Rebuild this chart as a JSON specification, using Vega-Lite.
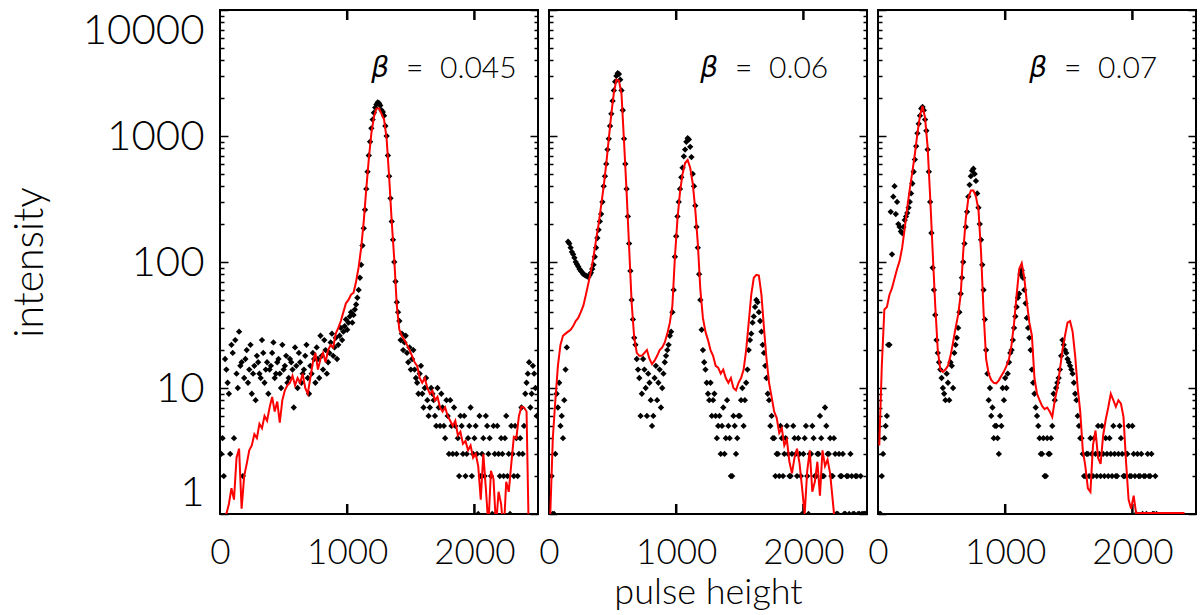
{
  "$schema": "https://vega.github.io/schema/vega-lite/v6.json",
  "background": "white",
  "padding": {"left": 8, "top": -7, "right": 6, "bottom": 0},
  "spacing": 11,
  "bounds": "flush",
  "config": {
    "font": "Lato",
    "view": {"stroke": "black", "strokeWidth": 2},
    "axis": {
      "labelFont": "Lato",
      "labelFontWeight": 300,
      "labelColor": "black",
      "titleFont": "Lato",
      "titleFontWeight": 300,
      "titleColor": "black",
      "ticks": false,
      "domain": false,
      "grid": true,
      "gridColor": "black",
      "gridOpacity": 1,
      "gridWidth": 1.5,
      "labelOverlap": false,
      "labelBound": false
    },
    "axisX": {"grid": false}
  },
  "datasets": {
    "ax": [
      {"x": 1000, "y": 1}, {"x": 2000, "y": 1}, {"x": 1000, "y": 10000}, {"x": 2000, "y": 10000}
    ],
    "p1": [
      {"x": 10, "n": 3, "f": 0.5}, {"x": 30, "n": 2, "f": 0.6}, {"x": 50, "n": 14, "f": 1.0}, {"x": 70, "n": 9, "f": 1.2},
      {"x": 90, "n": 22, "f": 1.6}, {"x": 110, "n": 4, "f": 1.3}, {"x": 130, "n": 13, "f": 2.8}, {"x": 150, "n": 28, "f": 3.3},
      {"x": 170, "n": 16, "f": 1.1}, {"x": 190, "n": 12, "f": 2.0}, {"x": 210, "n": 20, "f": 2.5}, {"x": 230, "n": 14, "f": 3.2},
      {"x": 250, "n": 9, "f": 3.5}, {"x": 270, "n": 15, "f": 4.3}, {"x": 290, "n": 18, "f": 4.0}, {"x": 310, "n": 13, "f": 5.2},
      {"x": 330, "n": 24, "f": 4.8}, {"x": 350, "n": 11, "f": 6.0}, {"x": 370, "n": 16, "f": 5.5}, {"x": 390, "n": 14, "f": 7.0},
      {"x": 410, "n": 19, "f": 8.5}, {"x": 430, "n": 12, "f": 6.5}, {"x": 450, "n": 16, "f": 7.8}, {"x": 470, "n": 13, "f": 5.3},
      {"x": 490, "n": 22, "f": 8.0}, {"x": 510, "n": 15, "f": 9.6}, {"x": 530, "n": 11, "f": 10.5}, {"x": 550, "n": 17, "f": 11.0},
      {"x": 570, "n": 14, "f": 12.5}, {"x": 590, "n": 21, "f": 10.5}, {"x": 610, "n": 10, "f": 12.0}, {"x": 630, "n": 16, "f": 11.0},
      {"x": 650, "n": 13, "f": 13.0}, {"x": 670, "n": 18, "f": 10.0}, {"x": 690, "n": 12, "f": 9.0}, {"x": 710, "n": 15, "f": 12.0},
      {"x": 730, "n": 19, "f": 16.0}, {"x": 750, "n": 11, "f": 19.0}, {"x": 770, "n": 17, "f": 14.0}, {"x": 790, "n": 26, "f": 17.0},
      {"x": 810, "n": 14, "f": 19.0}, {"x": 830, "n": 20, "f": 16.0}, {"x": 850, "n": 16, "f": 20.0}, {"x": 870, "n": 23, "f": 22.0},
      {"x": 890, "n": 18, "f": 21.0}, {"x": 910, "n": 25, "f": 27.0}, {"x": 930, "n": 22, "f": 30.0}, {"x": 950, "n": 30, "f": 34.0},
      {"x": 970, "n": 28, "f": 40.0}, {"x": 990, "n": 35, "f": 47.0}, {"x": 1010, "n": 33, "f": 50.0}, {"x": 1030, "n": 40, "f": 55.0},
      {"x": 1050, "n": 38, "f": 57.0}, {"x": 1070, "n": 46, "f": 70.0}, {"x": 1090, "n": 60, "f": 91.0}, {"x": 1110, "n": 95, "f": 130},
      {"x": 1130, "n": 185, "f": 210}, {"x": 1150, "n": 380, "f": 380}, {"x": 1170, "n": 700, "f": 660}, {"x": 1190, "n": 1150, "f": 1050},
      {"x": 1210, "n": 1530, "f": 1420}, {"x": 1230, "n": 1780, "f": 1650}, {"x": 1250, "n": 1820, "f": 1660}, {"x": 1270, "n": 1600, "f": 1500},
      {"x": 1290, "n": 1450, "f": 1350}, {"x": 1310, "n": 1000, "f": 950}, {"x": 1330, "n": 480, "f": 470}, {"x": 1350, "n": 210, "f": 210},
      {"x": 1370, "n": 100, "f": 105}, {"x": 1390, "n": 48, "f": 45}, {"x": 1410, "n": 34, "f": 29}, {"x": 1430, "n": 27, "f": 26},
      {"x": 1450, "n": 23, "f": 24}, {"x": 1470, "n": 19, "f": 22}, {"x": 1490, "n": 21, "f": 20}, {"x": 1510, "n": 17, "f": 18},
      {"x": 1530, "n": 14, "f": 16}, {"x": 1550, "n": 11, "f": 15}, {"x": 1570, "n": 13, "f": 12}, {"x": 1590, "n": 9, "f": 11},
      {"x": 1610, "n": 10, "f": 12}, {"x": 1630, "n": 8, "f": 10}, {"x": 1650, "n": 7, "f": 9}, {"x": 1670, "n": 9, "f": 9.5},
      {"x": 1690, "n": 6, "f": 8}, {"x": 1710, "n": 10, "f": 8.5}, {"x": 1730, "n": 5, "f": 7}, {"x": 1750, "n": 7, "f": 6.5},
      {"x": 1770, "n": 4, "f": 7}, {"x": 1790, "n": 6, "f": 6}, {"x": 1810, "n": 8, "f": 5.5}, {"x": 1830, "n": 3, "f": 5},
      {"x": 1850, "n": 5, "f": 5.5}, {"x": 1870, "n": 4, "f": 4.2}, {"x": 1890, "n": 6, "f": 4.5}, {"x": 1910, "n": 3, "f": 3.6},
      {"x": 1930, "n": 2, "f": 3.8}, {"x": 1950, "n": 4, "f": 3.2}, {"x": 1970, "n": 7, "f": 3.5}, {"x": 1990, "n": 3, "f": 2.8},
      {"x": 2010, "n": 5, "f": 3.0}, {"x": 2030, "n": 1, "f": 2.4}, {"x": 2050, "n": 2, "f": 1.3}, {"x": 2070, "n": 4, "f": 3.0},
      {"x": 2090, "n": 6, "f": 1.6}, {"x": 2110, "n": 3, "f": 0.8}, {"x": 2130, "n": 2, "f": 2.2}, {"x": 2150, "n": 5, "f": 1.9},
      {"x": 2170, "n": 1, "f": 0.8}, {"x": 2190, "n": 3, "f": 1.5}, {"x": 2210, "n": 4, "f": 1.2}, {"x": 2230, "n": 2, "f": 0.7},
      {"x": 2250, "n": 6, "f": 1.8}, {"x": 2270, "n": 3, "f": 1.5}, {"x": 2290, "n": 5, "f": 2.5}, {"x": 2310, "n": 2, "f": 4.1},
      {"x": 2330, "n": 4, "f": 4.0}, {"x": 2350, "n": 3, "f": 6.0}, {"x": 2370, "n": 7, "f": 7.1}, {"x": 2390, "n": 5, "f": 7.0},
      {"x": 2410, "n": 11, "f": 6.5}, {"x": 2430, "n": 16, "f": 0.5}, {"x": 2450, "n": 9, "f": null}, {"x": 2470, "n": 13, "f": null},
      {"x": 2490, "n": 6, "f": null},
      {"x": 20, "n": 4, "f": null}, {"x": 40, "n": 17, "f": null}, {"x": 60, "n": 11, "f": null}, {"x": 80, "n": 3, "f": null},
      {"x": 100, "n": 19, "f": null}, {"x": 120, "n": 24, "f": null}, {"x": 140, "n": 10, "f": null}, {"x": 160, "n": 15, "f": null},
      {"x": 180, "n": 2, "f": null}, {"x": 200, "n": 17, "f": null}, {"x": 220, "n": 11, "f": null}, {"x": 240, "n": 22, "f": null},
      {"x": 260, "n": 13, "f": null}, {"x": 280, "n": 8, "f": null}, {"x": 300, "n": 16, "f": null}, {"x": 320, "n": 12, "f": null},
      {"x": 340, "n": 19, "f": null}, {"x": 360, "n": 14, "f": null}, {"x": 380, "n": 9, "f": null}, {"x": 400, "n": 15, "f": null},
      {"x": 420, "n": 23, "f": null}, {"x": 440, "n": 13, "f": null}, {"x": 460, "n": 17, "f": null}, {"x": 480, "n": 10, "f": null},
      {"x": 500, "n": 14, "f": null}, {"x": 520, "n": 18, "f": null}, {"x": 540, "n": 12, "f": null}, {"x": 560, "n": 16, "f": null},
      {"x": 580, "n": 7, "f": null}, {"x": 600, "n": 15, "f": null}, {"x": 620, "n": 19, "f": null}, {"x": 640, "n": 11, "f": null},
      {"x": 660, "n": 14, "f": null}, {"x": 680, "n": 22, "f": null}, {"x": 700, "n": 9, "f": null}, {"x": 720, "n": 13, "f": null},
      {"x": 740, "n": 17, "f": null}, {"x": 760, "n": 21, "f": null}, {"x": 780, "n": 12, "f": null}, {"x": 800, "n": 18, "f": null},
      {"x": 820, "n": 24, "f": null}, {"x": 840, "n": 13, "f": null}, {"x": 860, "n": 19, "f": null}, {"x": 880, "n": 27, "f": null},
      {"x": 900, "n": 21, "f": null}, {"x": 920, "n": 17, "f": null}, {"x": 940, "n": 26, "f": null}, {"x": 960, "n": 24, "f": null},
      {"x": 980, "n": 31, "f": null}, {"x": 1000, "n": 29, "f": null}, {"x": 1020, "n": 37, "f": null}, {"x": 1040, "n": 33, "f": null},
      {"x": 1060, "n": 42, "f": null}, {"x": 1080, "n": 52, "f": null}, {"x": 1100, "n": 75, "f": null}, {"x": 1120, "n": 135, "f": null},
      {"x": 1140, "n": 260, "f": null}, {"x": 1160, "n": 520, "f": null}, {"x": 1180, "n": 900, "f": null}, {"x": 1200, "n": 1350, "f": null},
      {"x": 1220, "n": 1680, "f": null}, {"x": 1240, "n": 1850, "f": null}, {"x": 1260, "n": 1750, "f": null}, {"x": 1280, "n": 1550, "f": null},
      {"x": 1300, "n": 1200, "f": null}, {"x": 1320, "n": 700, "f": null}, {"x": 1340, "n": 320, "f": null}, {"x": 1360, "n": 150, "f": null},
      {"x": 1380, "n": 70, "f": null}, {"x": 1400, "n": 40, "f": null}, {"x": 1420, "n": 24, "f": null}, {"x": 1440, "n": 20, "f": null},
      {"x": 1460, "n": 26, "f": null}, {"x": 1480, "n": 16, "f": null}, {"x": 1500, "n": 14, "f": null}, {"x": 1520, "n": 20, "f": null},
      {"x": 1540, "n": 12, "f": null}, {"x": 1560, "n": 9, "f": null}, {"x": 1580, "n": 15, "f": null}, {"x": 1600, "n": 7, "f": null},
      {"x": 1620, "n": 12, "f": null}, {"x": 1640, "n": 6, "f": null}, {"x": 1660, "n": 10, "f": null}, {"x": 1680, "n": 8, "f": null},
      {"x": 1700, "n": 5, "f": null}, {"x": 1720, "n": 7, "f": null}, {"x": 1740, "n": 9, "f": null}, {"x": 1760, "n": 5, "f": null},
      {"x": 1780, "n": 8, "f": null}, {"x": 1800, "n": 3, "f": null}, {"x": 1820, "n": 5, "f": null}, {"x": 1840, "n": 7, "f": null},
      {"x": 1860, "n": 3, "f": null}, {"x": 1880, "n": 2, "f": null}, {"x": 1900, "n": 5, "f": null}, {"x": 1920, "n": 6, "f": null},
      {"x": 1940, "n": 3, "f": null}, {"x": 1960, "n": 5, "f": null}, {"x": 1980, "n": 2, "f": null}, {"x": 2000, "n": 4, "f": null},
      {"x": 2020, "n": 3, "f": null}, {"x": 2040, "n": 6, "f": null}, {"x": 2060, "n": 3, "f": null}, {"x": 2080, "n": 2, "f": null},
      {"x": 2100, "n": 5, "f": null}, {"x": 2120, "n": 4, "f": null}, {"x": 2140, "n": 1, "f": null}, {"x": 2160, "n": 3, "f": null},
      {"x": 2180, "n": 5, "f": null}, {"x": 2200, "n": 2, "f": null}, {"x": 2220, "n": 3, "f": null}, {"x": 2240, "n": 4, "f": null},
      {"x": 2260, "n": 2, "f": null}, {"x": 2280, "n": 1, "f": null}, {"x": 2300, "n": 3, "f": null}, {"x": 2320, "n": 5, "f": null},
      {"x": 2340, "n": 2, "f": null}, {"x": 2360, "n": 4, "f": null}, {"x": 2380, "n": 3, "f": null}, {"x": 2400, "n": 9, "f": null},
      {"x": 2420, "n": 13, "f": null}, {"x": 2440, "n": 7, "f": null}, {"x": 2460, "n": 15, "f": null}, {"x": 2480, "n": 10, "f": null}
    ],
    "p2": [
      {"x": 10, "n": 1, "f": 1.0}, {"x": 30, "n": 1, "f": 4}, {"x": 50, "n": 3, "f": 8}, {"x": 70, "n": 7, "f": 15},
      {"x": 90, "n": 5, "f": 22}, {"x": 110, "n": 4, "f": 26}, {"x": 130, "n": 14, "f": 27}, {"x": 150, "n": 145, "f": 28},
      {"x": 170, "n": 130, "f": 29}, {"x": 190, "n": 115, "f": 31}, {"x": 210, "n": 100, "f": 34}, {"x": 230, "n": 92, "f": 36},
      {"x": 250, "n": 85, "f": 40}, {"x": 270, "n": 80, "f": 45}, {"x": 290, "n": 78, "f": 55}, {"x": 310, "n": 76, "f": 68},
      {"x": 330, "n": 82, "f": 85}, {"x": 350, "n": 95, "f": 110}, {"x": 370, "n": 130, "f": 150}, {"x": 390, "n": 180, "f": 200},
      {"x": 410, "n": 240, "f": 280}, {"x": 430, "n": 400, "f": 400}, {"x": 450, "n": 600, "f": 600}, {"x": 470, "n": 950, "f": 950},
      {"x": 490, "n": 1500, "f": 1500}, {"x": 510, "n": 2300, "f": 2200}, {"x": 530, "n": 3000, "f": 2800}, {"x": 550, "n": 3100, "f": 2750},
      {"x": 570, "n": 2300, "f": 2150}, {"x": 590, "n": 950, "f": 900}, {"x": 610, "n": 380, "f": 360}, {"x": 630, "n": 140, "f": 130},
      {"x": 650, "n": 50, "f": 47}, {"x": 670, "n": 25, "f": 25}, {"x": 690, "n": 17, "f": 19}, {"x": 710, "n": 12, "f": 18},
      {"x": 730, "n": 9, "f": 18}, {"x": 750, "n": 14, "f": 19}, {"x": 770, "n": 6, "f": 20}, {"x": 790, "n": 11, "f": 17},
      {"x": 810, "n": 5, "f": 15.5}, {"x": 830, "n": 12, "f": 16.5}, {"x": 850, "n": 8, "f": 18}, {"x": 870, "n": 14, "f": 20},
      {"x": 890, "n": 10, "f": 21}, {"x": 910, "n": 16, "f": 23}, {"x": 930, "n": 20, "f": 27}, {"x": 950, "n": 26, "f": 33},
      {"x": 970, "n": 40, "f": 45}, {"x": 990, "n": 110, "f": 110}, {"x": 1010, "n": 230, "f": 220}, {"x": 1030, "n": 380, "f": 360},
      {"x": 1050, "n": 560, "f": 500}, {"x": 1070, "n": 780, "f": 610}, {"x": 1090, "n": 960, "f": 645}, {"x": 1110, "n": 820, "f": 560},
      {"x": 1130, "n": 500, "f": 420}, {"x": 1150, "n": 280, "f": 260}, {"x": 1170, "n": 130, "f": 140}, {"x": 1190, "n": 50, "f": 60},
      {"x": 1210, "n": 20, "f": 36}, {"x": 1230, "n": 14, "f": 28}, {"x": 1250, "n": 9, "f": 24}, {"x": 1270, "n": 11, "f": 20},
      {"x": 1290, "n": 8, "f": 18}, {"x": 1310, "n": 6, "f": 15}, {"x": 1330, "n": 5, "f": 14.5}, {"x": 1350, "n": 3, "f": 13},
      {"x": 1370, "n": 7, "f": 14}, {"x": 1390, "n": 4, "f": 12}, {"x": 1410, "n": 5, "f": 11}, {"x": 1430, "n": 2, "f": 12},
      {"x": 1450, "n": 6, "f": 10}, {"x": 1470, "n": 3, "f": 9.6}, {"x": 1490, "n": 6, "f": 11}, {"x": 1510, "n": 8, "f": 12},
      {"x": 1530, "n": 5, "f": 14}, {"x": 1550, "n": 11, "f": 20}, {"x": 1570, "n": 20, "f": 33}, {"x": 1590, "n": 27, "f": 55},
      {"x": 1610, "n": 37, "f": 75}, {"x": 1630, "n": 50, "f": 79}, {"x": 1650, "n": 40, "f": 78}, {"x": 1670, "n": 28, "f": 55},
      {"x": 1690, "n": 19, "f": 30}, {"x": 1710, "n": 12, "f": 17}, {"x": 1730, "n": 8, "f": 11}, {"x": 1750, "n": 6, "f": 8.5},
      {"x": 1770, "n": 4, "f": 6.5}, {"x": 1790, "n": 3, "f": 5.8}, {"x": 1810, "n": 2, "f": 4.4}, {"x": 1830, "n": 4, "f": 4.8},
      {"x": 1850, "n": 3, "f": 3.5}, {"x": 1870, "n": 5, "f": 3.9}, {"x": 1890, "n": 2, "f": 2.6}, {"x": 1910, "n": 3, "f": 2.1},
      {"x": 1930, "n": 4, "f": 2.8}, {"x": 1950, "n": 2, "f": 3.3}, {"x": 1970, "n": 3, "f": 2.5}, {"x": 1990, "n": 1, "f": 1.6},
      {"x": 2010, "n": 4, "f": 1.0}, {"x": 2030, "n": 2, "f": 2.2}, {"x": 2050, "n": 3, "f": 3.2}, {"x": 2070, "n": 5, "f": 1.5},
      {"x": 2090, "n": 2, "f": 1.8}, {"x": 2110, "n": 3, "f": 2.6}, {"x": 2130, "n": 6, "f": 1.4}, {"x": 2150, "n": 2, "f": 3.2},
      {"x": 2170, "n": 7, "f": 2.4}, {"x": 2190, "n": 3, "f": 2.7}, {"x": 2210, "n": 4, "f": 2.1}, {"x": 2230, "n": 2, "f": 1.3},
      {"x": 2250, "n": 3, "f": 0.8}, {"x": 2270, "n": 1, "f": null}, {"x": 2290, "n": 2, "f": null}, {"x": 2310, "n": 3, "f": null},
      {"x": 2330, "n": 1, "f": null}, {"x": 2350, "n": 2, "f": null}, {"x": 2370, "n": 3, "f": null}, {"x": 2390, "n": 1, "f": null},
      {"x": 2410, "n": 2, "f": null}, {"x": 2430, "n": 1, "f": null}, {"x": 2450, "n": 2, "f": null}, {"x": 2470, "n": 1, "f": null},
      {"x": 2490, "n": 1, "f": null},
      {"x": 20, "n": 2, "f": null}, {"x": 40, "n": 1, "f": null}, {"x": 60, "n": 9, "f": null}, {"x": 80, "n": 11, "f": null},
      {"x": 100, "n": 6, "f": null}, {"x": 120, "n": 8, "f": null}, {"x": 140, "n": 21, "f": null}, {"x": 160, "n": 140, "f": null},
      {"x": 180, "n": 120, "f": null}, {"x": 200, "n": 108, "f": null}, {"x": 220, "n": 96, "f": null}, {"x": 240, "n": 88, "f": null},
      {"x": 260, "n": 83, "f": null}, {"x": 280, "n": 79, "f": null}, {"x": 300, "n": 77, "f": null}, {"x": 320, "n": 79, "f": null},
      {"x": 340, "n": 88, "f": null}, {"x": 360, "n": 110, "f": null}, {"x": 380, "n": 155, "f": null}, {"x": 400, "n": 210, "f": null},
      {"x": 420, "n": 300, "f": null}, {"x": 440, "n": 480, "f": null}, {"x": 460, "n": 780, "f": null}, {"x": 480, "n": 1200, "f": null},
      {"x": 500, "n": 1900, "f": null}, {"x": 520, "n": 2700, "f": null}, {"x": 540, "n": 3150, "f": null}, {"x": 560, "n": 2800, "f": null},
      {"x": 580, "n": 1600, "f": null}, {"x": 600, "n": 600, "f": null}, {"x": 620, "n": 230, "f": null}, {"x": 640, "n": 85, "f": null},
      {"x": 660, "n": 35, "f": null}, {"x": 680, "n": 22, "f": null}, {"x": 700, "n": 14, "f": null}, {"x": 720, "n": 6, "f": null},
      {"x": 740, "n": 17, "f": null}, {"x": 760, "n": 10, "f": null}, {"x": 780, "n": 13, "f": null}, {"x": 800, "n": 8, "f": null},
      {"x": 820, "n": 6, "f": null}, {"x": 840, "n": 15, "f": null}, {"x": 860, "n": 11, "f": null}, {"x": 880, "n": 7, "f": null},
      {"x": 900, "n": 13, "f": null}, {"x": 920, "n": 18, "f": null}, {"x": 940, "n": 22, "f": null}, {"x": 960, "n": 28, "f": null},
      {"x": 980, "n": 60, "f": null}, {"x": 1000, "n": 160, "f": null}, {"x": 1020, "n": 300, "f": null}, {"x": 1040, "n": 470, "f": null},
      {"x": 1060, "n": 690, "f": null}, {"x": 1080, "n": 900, "f": null}, {"x": 1100, "n": 940, "f": null}, {"x": 1120, "n": 680, "f": null},
      {"x": 1140, "n": 400, "f": null}, {"x": 1160, "n": 190, "f": null}, {"x": 1180, "n": 80, "f": null}, {"x": 1200, "n": 29, "f": null},
      {"x": 1220, "n": 16, "f": null}, {"x": 1240, "n": 11, "f": null}, {"x": 1260, "n": 8, "f": null}, {"x": 1280, "n": 6, "f": null},
      {"x": 1300, "n": 9, "f": null}, {"x": 1320, "n": 4, "f": null}, {"x": 1340, "n": 6, "f": null}, {"x": 1360, "n": 5, "f": null},
      {"x": 1380, "n": 3, "f": null}, {"x": 1400, "n": 8, "f": null}, {"x": 1420, "n": 4, "f": null}, {"x": 1440, "n": 2, "f": null},
      {"x": 1460, "n": 5, "f": null}, {"x": 1480, "n": 4, "f": null}, {"x": 1500, "n": 6, "f": null}, {"x": 1520, "n": 10, "f": null},
      {"x": 1540, "n": 8, "f": null}, {"x": 1560, "n": 14, "f": null}, {"x": 1580, "n": 24, "f": null}, {"x": 1600, "n": 33, "f": null},
      {"x": 1620, "n": 44, "f": null}, {"x": 1640, "n": 48, "f": null}, {"x": 1660, "n": 34, "f": null}, {"x": 1680, "n": 22, "f": null},
      {"x": 1700, "n": 15, "f": null}, {"x": 1720, "n": 9, "f": null}, {"x": 1740, "n": 5, "f": null}, {"x": 1760, "n": 4, "f": null},
      {"x": 1780, "n": 2, "f": null}, {"x": 1800, "n": 3, "f": null}, {"x": 1820, "n": 5, "f": null}, {"x": 1840, "n": 2, "f": null},
      {"x": 1860, "n": 4, "f": null}, {"x": 1880, "n": 3, "f": null}, {"x": 1900, "n": 2, "f": null}, {"x": 1920, "n": 5, "f": null},
      {"x": 1940, "n": 3, "f": null}, {"x": 1960, "n": 4, "f": null}, {"x": 1980, "n": 2, "f": null}, {"x": 2000, "n": 3, "f": null},
      {"x": 2020, "n": 5, "f": null}, {"x": 2040, "n": 1, "f": null}, {"x": 2060, "n": 3, "f": null}, {"x": 2080, "n": 4, "f": null},
      {"x": 2100, "n": 2, "f": null}, {"x": 2120, "n": 3, "f": null}, {"x": 2140, "n": 4, "f": null}, {"x": 2160, "n": 2, "f": null},
      {"x": 2180, "n": 5, "f": null}, {"x": 2200, "n": 3, "f": null}, {"x": 2220, "n": 2, "f": null}, {"x": 2240, "n": 4, "f": null},
      {"x": 2260, "n": 1, "f": null}, {"x": 2280, "n": 3, "f": null}, {"x": 2300, "n": 2, "f": null}, {"x": 2320, "n": 1, "f": null},
      {"x": 2340, "n": 2, "f": null}, {"x": 2360, "n": 1, "f": null}, {"x": 2380, "n": 2, "f": null}, {"x": 2400, "n": 1, "f": null},
      {"x": 2420, "n": 2, "f": null}, {"x": 2440, "n": 1, "f": null}, {"x": 2460, "n": 1, "f": null}, {"x": 2480, "n": 1, "f": null}
    ],
    "p3": [
      {"x": 10, "n": 1, "f": 3.5}, {"x": 30, "n": 2, "f": 15}, {"x": 50, "n": 4, "f": 42}, {"x": 70, "n": 6, "f": 44},
      {"x": 90, "n": 22, "f": 55}, {"x": 110, "n": 115, "f": 62}, {"x": 130, "n": 400, "f": 74}, {"x": 150, "n": 300, "f": 88},
      {"x": 170, "n": 190, "f": 102}, {"x": 190, "n": 170, "f": 130}, {"x": 210, "n": 215, "f": 185}, {"x": 230, "n": 245, "f": 270},
      {"x": 250, "n": 300, "f": 380}, {"x": 270, "n": 420, "f": 520}, {"x": 290, "n": 650, "f": 720}, {"x": 310, "n": 1050, "f": 1050},
      {"x": 330, "n": 1450, "f": 1450}, {"x": 350, "n": 1700, "f": 1730}, {"x": 370, "n": 1350, "f": 1400}, {"x": 390, "n": 780, "f": 820},
      {"x": 410, "n": 300, "f": 330}, {"x": 430, "n": 90, "f": 120}, {"x": 450, "n": 38, "f": 45}, {"x": 470, "n": 19, "f": 20},
      {"x": 490, "n": 14, "f": 14}, {"x": 510, "n": 10, "f": 13.4}, {"x": 530, "n": 8, "f": 14}, {"x": 550, "n": 11, "f": 15},
      {"x": 570, "n": 16, "f": 18}, {"x": 590, "n": 10, "f": 23}, {"x": 610, "n": 22, "f": 30}, {"x": 630, "n": 30, "f": 38},
      {"x": 650, "n": 56, "f": 55}, {"x": 670, "n": 100, "f": 120}, {"x": 690, "n": 190, "f": 220}, {"x": 710, "n": 330, "f": 320},
      {"x": 730, "n": 480, "f": 370}, {"x": 750, "n": 550, "f": 370}, {"x": 770, "n": 440, "f": 330}, {"x": 790, "n": 270, "f": 260},
      {"x": 810, "n": 150, "f": 120}, {"x": 830, "n": 60, "f": 40}, {"x": 850, "n": 20, "f": 17}, {"x": 870, "n": 8, "f": 13},
      {"x": 890, "n": 6, "f": 11.6}, {"x": 910, "n": 4, "f": 11}, {"x": 930, "n": 5, "f": 10.9}, {"x": 950, "n": 3, "f": 11.5},
      {"x": 970, "n": 5, "f": 12.5}, {"x": 990, "n": 8, "f": 13.5}, {"x": 1010, "n": 10, "f": 15}, {"x": 1030, "n": 16, "f": 17},
      {"x": 1050, "n": 20, "f": 22}, {"x": 1070, "n": 30, "f": 33}, {"x": 1090, "n": 44, "f": 55}, {"x": 1110, "n": 56, "f": 88},
      {"x": 1130, "n": 86, "f": 98}, {"x": 1150, "n": 60, "f": 75}, {"x": 1170, "n": 36, "f": 48}, {"x": 1190, "n": 25, "f": 33},
      {"x": 1210, "n": 14, "f": 26}, {"x": 1230, "n": 9, "f": 12}, {"x": 1250, "n": 6, "f": 9}, {"x": 1270, "n": 4, "f": 8},
      {"x": 1290, "n": 3, "f": 7.2}, {"x": 1310, "n": 2, "f": 6.8}, {"x": 1330, "n": 4, "f": 7}, {"x": 1350, "n": 3, "f": 6.5},
      {"x": 1370, "n": 5, "f": 5.9}, {"x": 1390, "n": 8, "f": 8}, {"x": 1410, "n": 11, "f": 10}, {"x": 1430, "n": 14, "f": 14},
      {"x": 1450, "n": 24, "f": 20}, {"x": 1470, "n": 20, "f": 26}, {"x": 1490, "n": 17, "f": 33}, {"x": 1510, "n": 15, "f": 34},
      {"x": 1530, "n": 13, "f": 28}, {"x": 1550, "n": 9, "f": 18}, {"x": 1570, "n": 6, "f": 10}, {"x": 1590, "n": 4, "f": 6.5},
      {"x": 1610, "n": 3, "f": 3.2}, {"x": 1630, "n": 2, "f": 2.4}, {"x": 1650, "n": 3, "f": 1.6}, {"x": 1670, "n": 4, "f": 1.5},
      {"x": 1690, "n": 2, "f": 3.5}, {"x": 1710, "n": 3, "f": 4.6}, {"x": 1730, "n": 5, "f": 2.8}, {"x": 1750, "n": 2, "f": 2.5},
      {"x": 1770, "n": 3, "f": 4.2}, {"x": 1790, "n": 4, "f": 5.6}, {"x": 1810, "n": 2, "f": 7}, {"x": 1830, "n": 3, "f": 9},
      {"x": 1850, "n": 5, "f": 8}, {"x": 1870, "n": 2, "f": 7.1}, {"x": 1890, "n": 3, "f": 8}, {"x": 1910, "n": 4, "f": 7.5},
      {"x": 1930, "n": 2, "f": 5.9}, {"x": 1950, "n": 3, "f": 2.6}, {"x": 1970, "n": 5, "f": 1.3}, {"x": 1990, "n": 2, "f": 1.1},
      {"x": 2010, "n": 3, "f": 1.4}, {"x": 2030, "n": 1, "f": 1.0}, {"x": 2050, "n": 2, "f": 1.02}, {"x": 2070, "n": 3, "f": 1.02},
      {"x": 2090, "n": 2, "f": 1.02}, {"x": 2110, "n": 1, "f": 1.02}, {"x": 2130, "n": 2, "f": 1.02}, {"x": 2150, "n": 3, "f": 1.02},
      {"x": 2170, "n": 1, "f": 1.02}, {"x": 2190, "n": 1, "f": 1.02}, {"x": 2210, "n": null, "f": 1.02}, {"x": 2230, "n": null, "f": 1.02},
      {"x": 2250, "n": null, "f": 1.02}, {"x": 2270, "n": null, "f": 1.02}, {"x": 2290, "n": null, "f": 1.02}, {"x": 2310, "n": null, "f": 1.02},
      {"x": 2330, "n": null, "f": 1.02}, {"x": 2350, "n": null, "f": 1.02}, {"x": 2370, "n": null, "f": 1.02}, {"x": 2390, "n": null, "f": 1.02},
      {"x": 2410, "n": null, "f": 1.02},
      {"x": 20, "n": 1, "f": null}, {"x": 40, "n": 3, "f": null}, {"x": 60, "n": 5, "f": null}, {"x": 80, "n": 22, "f": null},
      {"x": 100, "n": 250, "f": null}, {"x": 120, "n": 330, "f": null}, {"x": 140, "n": 240, "f": null}, {"x": 160, "n": 200, "f": null},
      {"x": 180, "n": 175, "f": null}, {"x": 200, "n": 190, "f": null}, {"x": 220, "n": 230, "f": null}, {"x": 240, "n": 270, "f": null},
      {"x": 260, "n": 350, "f": null}, {"x": 280, "n": 520, "f": null}, {"x": 300, "n": 830, "f": null}, {"x": 320, "n": 1250, "f": null},
      {"x": 340, "n": 1650, "f": null}, {"x": 360, "n": 1600, "f": null}, {"x": 380, "n": 1100, "f": null}, {"x": 400, "n": 520, "f": null},
      {"x": 420, "n": 170, "f": null}, {"x": 440, "n": 60, "f": null}, {"x": 460, "n": 24, "f": null}, {"x": 480, "n": 16, "f": null},
      {"x": 500, "n": 12, "f": null}, {"x": 520, "n": 9, "f": null}, {"x": 540, "n": 13, "f": null}, {"x": 560, "n": 8, "f": null},
      {"x": 580, "n": 15, "f": null}, {"x": 600, "n": 19, "f": null}, {"x": 620, "n": 25, "f": null}, {"x": 640, "n": 40, "f": null},
      {"x": 660, "n": 75, "f": null}, {"x": 680, "n": 140, "f": null}, {"x": 700, "n": 250, "f": null}, {"x": 720, "n": 410, "f": null},
      {"x": 740, "n": 530, "f": null}, {"x": 760, "n": 500, "f": null}, {"x": 780, "n": 350, "f": null}, {"x": 800, "n": 200, "f": null},
      {"x": 820, "n": 95, "f": null}, {"x": 840, "n": 35, "f": null}, {"x": 860, "n": 13, "f": null}, {"x": 880, "n": 10, "f": null},
      {"x": 900, "n": 7, "f": null}, {"x": 920, "n": 5, "f": null}, {"x": 940, "n": 4, "f": null}, {"x": 960, "n": 6, "f": null},
      {"x": 980, "n": 10, "f": null}, {"x": 1000, "n": 12, "f": null}, {"x": 1020, "n": 13, "f": null}, {"x": 1040, "n": 19, "f": null},
      {"x": 1060, "n": 24, "f": null}, {"x": 1080, "n": 37, "f": null}, {"x": 1100, "n": 52, "f": null}, {"x": 1120, "n": 80, "f": null},
      {"x": 1140, "n": 75, "f": null}, {"x": 1160, "n": 47, "f": null}, {"x": 1180, "n": 30, "f": null}, {"x": 1200, "n": 20, "f": null},
      {"x": 1220, "n": 11, "f": null}, {"x": 1240, "n": 7, "f": null}, {"x": 1260, "n": 5, "f": null}, {"x": 1280, "n": 3, "f": null},
      {"x": 1300, "n": 4, "f": null}, {"x": 1320, "n": 2, "f": null}, {"x": 1340, "n": 3, "f": null}, {"x": 1360, "n": 4, "f": null},
      {"x": 1380, "n": 9, "f": null}, {"x": 1400, "n": 10, "f": null}, {"x": 1420, "n": 12, "f": null}, {"x": 1440, "n": 18, "f": null},
      {"x": 1460, "n": 22, "f": null}, {"x": 1480, "n": 19, "f": null}, {"x": 1500, "n": 16, "f": null}, {"x": 1520, "n": 14, "f": null},
      {"x": 1540, "n": 11, "f": null}, {"x": 1560, "n": 8, "f": null}, {"x": 1580, "n": 5, "f": null}, {"x": 1600, "n": 4, "f": null},
      {"x": 1620, "n": 2, "f": null}, {"x": 1640, "n": 3, "f": null}, {"x": 1660, "n": 2, "f": null}, {"x": 1680, "n": 3, "f": null},
      {"x": 1700, "n": 4, "f": null}, {"x": 1720, "n": 2, "f": null}, {"x": 1740, "n": 3, "f": null}, {"x": 1760, "n": 5, "f": null},
      {"x": 1780, "n": 2, "f": null}, {"x": 1800, "n": 3, "f": null}, {"x": 1820, "n": 4, "f": null}, {"x": 1840, "n": 2, "f": null},
      {"x": 1860, "n": 3, "f": null}, {"x": 1880, "n": 2, "f": null}, {"x": 1900, "n": 5, "f": null}, {"x": 1920, "n": 3, "f": null},
      {"x": 1940, "n": 2, "f": null}, {"x": 1960, "n": 3, "f": null}, {"x": 1980, "n": 2, "f": null}, {"x": 2000, "n": 5, "f": null},
      {"x": 2020, "n": 2, "f": null}, {"x": 2040, "n": 3, "f": null}, {"x": 2060, "n": 2, "f": null}, {"x": 2080, "n": 1, "f": null},
      {"x": 2100, "n": 2, "f": null}, {"x": 2120, "n": 3, "f": null}, {"x": 2140, "n": 2, "f": null}, {"x": 2160, "n": 1, "f": null},
      {"x": 2180, "n": 2, "f": null}
    ],
    "lab": [
      {"p": 1, "x": 1190, "y": 3400, "t": "β"}, {"p": 1, "x": 1462, "y": 3400, "t": "="}, {"p": 1, "x": 1730, "y": 3400, "t": "0.045"},
      {"p": 2, "x": 1190, "y": 3400, "t": "β"}, {"p": 2, "x": 1462, "y": 3400, "t": "="}, {"p": 2, "x": 1730, "y": 3400, "t": "0.06"},
      {"p": 3, "x": 1190, "y": 3400, "t": "β"}, {"p": 3, "x": 1462, "y": 3400, "t": "="}, {"p": 3, "x": 1730, "y": 3400, "t": "0.07"}
    ]
  },
  "hconcat": [
    {
      "width": 318,
      "height": 504,
      "encoding": {
        "x": {"field": "x", "type": "quantitative", "scale": {"domain": [0, 2500], "nice": false, "zero": false},
          "axis": {"values": [0, 1000, 2000], "format": "d", "title": null, "labelFontSize": 35, "labelPadding": 21, "labelFlush": false}}
      },
      "layer": [
        {
          "data": {"name": "p1"},
          "transform": [{"filter": "isValid(datum.n)"}],
          "mark": {"type": "point", "shape": "diamond", "filled": true, "color": "black", "opacity": 1, "size": 40, "clip": true},
          "encoding": {
            "y": {"field": "n", "type": "quantitative", "scale": {"type": "log", "domain": [1, 10000], "nice": false},
              "axis": {"values": [1, 2, 3, 4, 5, 6, 7, 8, 9, 10, 20, 30, 40, 50, 60, 70, 80, 90, 100, 200, 300, 400, 500, 600, 700, 800, 900, 1000, 2000, 3000, 4000, 5000, 6000, 7000, 8000, 9000, 10000],
                "title": "intensity", "titleFontSize": 41, "titlePadding": 31,
                "labelExpr": "(datum.value == 1 || datum.value == 10 || datum.value == 100 || datum.value == 1000 || datum.value == 10000) ? format(datum.value, 'd') : ''",
                "labelFontSize": 42, "labelPadding": 16, "labelFlush": true, "labelFlushOffset": 0,
                "gridDash": {"condition": {"test": "datum.value == 1 || datum.value == 10 || datum.value == 100 || datum.value == 1000 || datum.value == 10000", "value": [8, 302, 8, 5000]}, "value": [4, 310, 4, 5000]}}}
          }
        },
        {
          "data": {"name": "ax"},
          "mark": {"type": "tick", "orient": "vertical", "size": 20, "thickness": 2.5, "color": "black", "opacity": 1, "clip": true},
          "encoding": {"y": {"field": "y", "type": "quantitative"}}
        },
        {
          "data": {"name": "p1"},
          "transform": [{"filter": "isValid(datum.f)"}],
          "mark": {"type": "line", "color": "#ff0000", "strokeWidth": 2, "clip": true},
          "encoding": {"y": {"field": "f", "type": "quantitative"}}
        },
        {
          "data": {"name": "lab"},
          "transform": [{"filter": "datum.p == 1 && datum.t == 'β'"}],
          "mark": {"type": "text", "align": "left", "baseline": "middle", "fontSize": 28, "fontStyle": "italic", "font": "DejaVu Sans", "color": "black"},
          "encoding": {"y": {"field": "y", "type": "quantitative"}, "text": {"field": "t"}}
        },
        {
          "data": {"name": "lab"},
          "transform": [{"filter": "datum.p == 1 && datum.t != 'β'"}],
          "mark": {"type": "text", "align": "left", "baseline": "middle", "fontSize": 30, "fontWeight": 300, "font": "Lato", "color": "black"},
          "encoding": {"y": {"field": "y", "type": "quantitative"}, "text": {"field": "t"}}
        }
      ]
    },
    {
      "width": 318,
      "height": 504,
      "encoding": {
        "x": {"field": "x", "type": "quantitative", "scale": {"domain": [0, 2500], "nice": false, "zero": false},
          "axis": {"values": [0, 1000, 2000], "format": "d", "title": "pulse height", "titleFontSize": 36, "titlePadding": 5, "labelFontSize": 35, "labelPadding": 21, "labelFlush": false}}
      },
      "layer": [
        {
          "data": {"name": "p2"},
          "transform": [{"filter": "isValid(datum.n)"}],
          "mark": {"type": "point", "shape": "diamond", "filled": true, "color": "black", "opacity": 1, "size": 40, "clip": true},
          "encoding": {
            "y": {"field": "n", "type": "quantitative", "scale": {"type": "log", "domain": [1, 10000], "nice": false},
              "axis": {"values": [1, 2, 3, 4, 5, 6, 7, 8, 9, 10, 20, 30, 40, 50, 60, 70, 80, 90, 100, 200, 300, 400, 500, 600, 700, 800, 900, 1000, 2000, 3000, 4000, 5000, 6000, 7000, 8000, 9000, 10000],
                "title": null, "labels": false,
                "gridDash": {"condition": {"test": "datum.value == 1 || datum.value == 10 || datum.value == 100 || datum.value == 1000 || datum.value == 10000", "value": [8, 302, 8, 5000]}, "value": [4, 310, 4, 5000]}}}
          }
        },
        {
          "data": {"name": "ax"},
          "mark": {"type": "tick", "orient": "vertical", "size": 20, "thickness": 2.5, "color": "black", "opacity": 1, "clip": true},
          "encoding": {"y": {"field": "y", "type": "quantitative"}}
        },
        {
          "data": {"name": "p2"},
          "transform": [{"filter": "isValid(datum.f)"}],
          "mark": {"type": "line", "color": "#ff0000", "strokeWidth": 2, "clip": true},
          "encoding": {"y": {"field": "f", "type": "quantitative"}}
        },
        {
          "data": {"name": "lab"},
          "transform": [{"filter": "datum.p == 2 && datum.t == 'β'"}],
          "mark": {"type": "text", "align": "left", "baseline": "middle", "fontSize": 28, "fontStyle": "italic", "font": "DejaVu Sans", "color": "black"},
          "encoding": {"y": {"field": "y", "type": "quantitative"}, "text": {"field": "t"}}
        },
        {
          "data": {"name": "lab"},
          "transform": [{"filter": "datum.p == 2 && datum.t != 'β'"}],
          "mark": {"type": "text", "align": "left", "baseline": "middle", "fontSize": 30, "fontWeight": 300, "font": "Lato", "color": "black"},
          "encoding": {"y": {"field": "y", "type": "quantitative"}, "text": {"field": "t"}}
        }
      ]
    },
    {
      "width": 318,
      "height": 504,
      "encoding": {
        "x": {"field": "x", "type": "quantitative", "scale": {"domain": [0, 2500], "nice": false, "zero": false},
          "axis": {"values": [0, 1000, 2000], "format": "d", "title": null, "labelFontSize": 35, "labelPadding": 21, "labelFlush": false}}
      },
      "layer": [
        {
          "data": {"name": "p3"},
          "transform": [{"filter": "isValid(datum.n)"}],
          "mark": {"type": "point", "shape": "diamond", "filled": true, "color": "black", "opacity": 1, "size": 40, "clip": true},
          "encoding": {
            "y": {"field": "n", "type": "quantitative", "scale": {"type": "log", "domain": [1, 10000], "nice": false},
              "axis": {"values": [1, 2, 3, 4, 5, 6, 7, 8, 9, 10, 20, 30, 40, 50, 60, 70, 80, 90, 100, 200, 300, 400, 500, 600, 700, 800, 900, 1000, 2000, 3000, 4000, 5000, 6000, 7000, 8000, 9000, 10000],
                "title": null, "labels": false,
                "gridDash": {"condition": {"test": "datum.value == 1 || datum.value == 10 || datum.value == 100 || datum.value == 1000 || datum.value == 10000", "value": [8, 302, 8, 5000]}, "value": [4, 310, 4, 5000]}}}
          }
        },
        {
          "data": {"name": "ax"},
          "mark": {"type": "tick", "orient": "vertical", "size": 20, "thickness": 2.5, "color": "black", "opacity": 1, "clip": true},
          "encoding": {"y": {"field": "y", "type": "quantitative"}}
        },
        {
          "data": {"name": "p3"},
          "transform": [{"filter": "isValid(datum.f)"}],
          "mark": {"type": "line", "color": "#ff0000", "strokeWidth": 2, "clip": true},
          "encoding": {"y": {"field": "f", "type": "quantitative"}}
        },
        {
          "data": {"name": "lab"},
          "transform": [{"filter": "datum.p == 3 && datum.t == 'β'"}],
          "mark": {"type": "text", "align": "left", "baseline": "middle", "fontSize": 28, "fontStyle": "italic", "font": "DejaVu Sans", "color": "black"},
          "encoding": {"y": {"field": "y", "type": "quantitative"}, "text": {"field": "t"}}
        },
        {
          "data": {"name": "lab"},
          "transform": [{"filter": "datum.p == 3 && datum.t != 'β'"}],
          "mark": {"type": "text", "align": "left", "baseline": "middle", "fontSize": 30, "fontWeight": 300, "font": "Lato", "color": "black"},
          "encoding": {"y": {"field": "y", "type": "quantitative"}, "text": {"field": "t"}}
        }
      ]
    }
  ]
}
